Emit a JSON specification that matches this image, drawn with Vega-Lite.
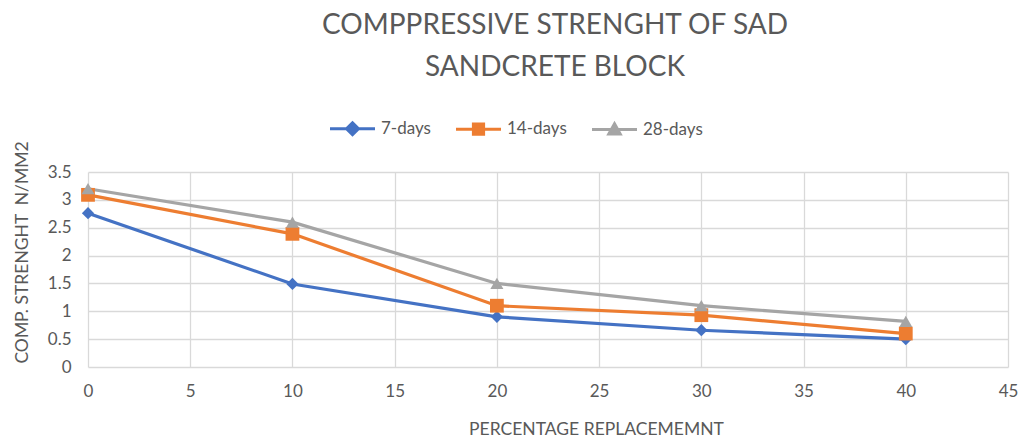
{
  "$schema": "https://vega.github.io/schema/vega-lite/v6.json",
  "width": 920,
  "height": 195,
  "autosize": {"type": "none"},
  "padding": {"left": 88, "top": 172, "right": 25, "bottom": 75},
  "background": "white",
  "config": {
    "font": "Lato",
    "view": {"stroke": null},
    "axis": {"labelColor": "#595959", "titleColor": "#595959", "labelFontSize": 17, "titleFontSize": 17.5, "titleFontWeight": "normal", "gridColor": "#D9D9D9", "gridWidth": 1.3, "domain": false, "ticks": false, "labelFont": "Lato", "titleFont": "Lato", "labelFlush": false}
  },
  "title": {
    "text": ["COMPPRESSIVE STRENGHT OF SAD", "SANDCRETE BLOCK"],
    "fontSize": 28,
    "fontWeight": "normal",
    "color": "#595959",
    "font": "Lato",
    "lineHeight": 42,
    "anchor": "middle",
    "dx": 7,
    "offset": 38
  },
  "data": {
    "values": [
      {"pct": 0, "strength": 2.76, "series": "7-days"},
      {"pct": 10, "strength": 1.49, "series": "7-days"},
      {"pct": 20, "strength": 0.9, "series": "7-days"},
      {"pct": 30, "strength": 0.66, "series": "7-days"},
      {"pct": 40, "strength": 0.5, "series": "7-days"},
      {"pct": 0, "strength": 3.09, "series": "14-days"},
      {"pct": 10, "strength": 2.39, "series": "14-days"},
      {"pct": 20, "strength": 1.1, "series": "14-days"},
      {"pct": 30, "strength": 0.93, "series": "14-days"},
      {"pct": 40, "strength": 0.6, "series": "14-days"},
      {"pct": 0, "strength": 3.2, "series": "28-days"},
      {"pct": 10, "strength": 2.6, "series": "28-days"},
      {"pct": 20, "strength": 1.5, "series": "28-days"},
      {"pct": 30, "strength": 1.1, "series": "28-days"},
      {"pct": 40, "strength": 0.82, "series": "28-days"}
    ]
  },
  "encoding": {
    "x": {"field": "pct", "type": "quantitative", "scale": {"domain": [0, 45], "nice": false}, "axis": {"values": [0, 5, 10, 15, 20, 25, 30, 35, 40, 45], "title": "PERCENTAGE REPLACEMEMNT", "labelPadding": 16, "titleX": 508, "titleY": 62, "titleBaseline": "middle", "titleAlign": "center"}},
    "y": {"field": "strength", "type": "quantitative", "scale": {"domain": [0, 3.5], "nice": false}, "axis": {"values": [0, 0.5, 1, 1.5, 2, 2.5, 3, 3.5], "format": "~g", "title": "COMP. STRENGHT \u00a0N/MM2", "labelPadding": 17, "titleX": -66, "titleY": 80, "titleBaseline": "middle", "titleAlign": "center"}},
    "color": {"field": "series", "type": "nominal", "sort": ["7-days", "14-days", "28-days"], "scale": {"domain": ["7-days", "14-days", "28-days"], "range": ["#4472C4", "#ED7D31", "#A5A5A5"]},
      "legend": {"orient": "none", "legendX": 256, "legendY": -52, "direction": "horizontal", "title": null, "labelFontSize": 17, "labelColor": "#595959", "labelFont": "Lato", "symbolSize": 144, "symbolStrokeWidth": 3, "columnPadding": 19, "labelOffset": 20,
        "encode": {"symbols": {"update": {
          "shape": {"signal": "datum.value == '7-days' ? 'M-3.75,0H3.75M0,-1L1,0L0,1L-1,0Z' : datum.value == '14-days' ? 'M-3.75,0H3.75M-0.85,-0.85H0.85V0.85H-0.85Z' : 'M-3.75,0H3.75M0,-0.95L0.95,0.75H-0.95Z'"},
          "fill": {"signal": "scale('color', datum.value)"},
          "stroke": {"signal": "scale('color', datum.value)"},
          "strokeWidth": {"value": 3},
          "opacity": {"value": 1}
        }}}
      }}
  },
  "layer": [
    {"mark": {"type": "line", "strokeWidth": 3.2}},
    {"transform": [{"filter": "datum.series == '7-days'"}], "mark": {"type": "point", "filled": true, "opacity": 1, "shape": "diamond", "size": 150}},
    {"transform": [{"filter": "datum.series == '14-days'"}], "mark": {"type": "point", "filled": true, "opacity": 1, "shape": "square", "size": 190}},
    {"transform": [{"filter": "datum.series == '28-days'"}], "mark": {"type": "point", "filled": true, "opacity": 1, "shape": "triangle-up", "size": 170}}
  ]
}
